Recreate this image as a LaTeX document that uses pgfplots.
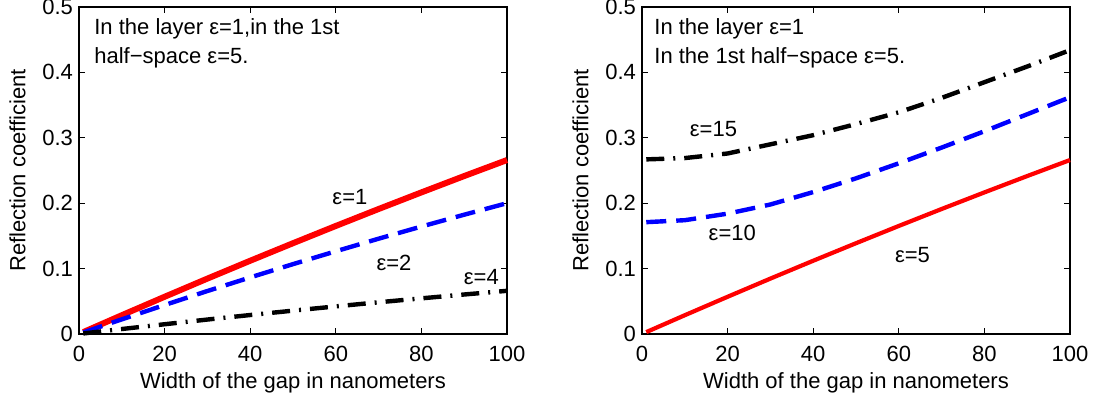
\documentclass[border=0pt]{standalone}
\usepackage{fontspec}
\setmainfont{Liberation Sans}
\usepackage{pgfplots}
\pgfplotsset{compat=1.18}

\pgfplotsset{
  panel/.style={
    width=214pt, height=163.5pt, scale only axis,
    xmin=0, xmax=100, ymin=0, ymax=0.5,
    xtick={0,20,40,60,80,100},
    ytick={0,0.1,0.2,0.3,0.4,0.5},
    tick align=inside, major tick length=3pt,
    tick style={black, line width=0.5pt},
    axis line style={black, line width=0.6pt},
    font=\fontsize{11}{13}\selectfont,
    /pgf/number format/assume math mode=true,
    yticklabel style={/pgf/number format/fixed, /pgf/number format/precision=1, xshift=0.5pt},
    xticklabel style={yshift=-2.5pt},
    xlabel={Width of the gap in nanometers},
    ylabel={Reflection coefficient},
    xlabel style={yshift=1.5pt},
    ylabel style={yshift=1.5pt},
    clip=false,
  },
  redline/.style={red, line width=2.1pt, no markers},
  blueline/.style={blue, line width=2.2pt, no markers, dash pattern=on 10pt off 5pt},
  blackline/.style={black, line width=2.2pt, no markers, dash pattern=on 9pt off 4.5pt on 1pt off 4.5pt},
}

\begin{document}
\begin{tikzpicture}
\path[use as bounding box] (-39.5pt,-33pt) rectangle (507.5pt,167pt);

\begin{axis}[panel, at={(0,0)}]
\addplot[redline, line width=3pt] coordinates {
(1,0.0029) (10,0.0287) (20,0.0569) (30,0.0847) (40,0.1120) (50,0.1388)
(60,0.1652) (70,0.1911) (80,0.2165) (90,0.2415) (100,0.2660)};
\addplot[blueline] coordinates {
(1,0.0023) (10,0.0224) (20,0.0443) (30,0.0657) (40,0.0865) (50,0.1068)
(60,0.1265) (70,0.1457) (80,0.1643) (90,0.1824) (100,0.2000)};
\addplot[blackline] coordinates {
(1,0.0008) (10,0.0076) (20,0.0149) (30,0.0221) (40,0.0290) (50,0.0357)
(60,0.0422) (70,0.0485) (80,0.0545) (90,0.0604) (100,0.0660)};
\node at (axis cs:63.3,0.210) {ε=1};
\node at (axis cs:73.6,0.108) {ε=2};
\node at (axis cs:94,0.087) {ε=4};
\node[anchor=base west, inner sep=0pt] at (axis cs:3.5,0.458) {In the layer ε=1,in the 1st};
\node[anchor=base west, inner sep=0pt] at (axis cs:3.5,0.413) {half−space ε=5.};
\end{axis}

\begin{axis}[panel, at={(281.5pt,0)}]
\addplot[redline] coordinates {
(1,0.0029) (10,0.0287) (20,0.0569) (30,0.0847) (40,0.1120) (50,0.1388)
(60,0.1652) (70,0.1911) (80,0.2165) (90,0.2415) (100,0.2660)};
\addplot[blueline] coordinates {
(1,0.171) (10,0.174) (20,0.184) (30,0.198) (40,0.217) (50,0.238)
(60,0.261) (70,0.285) (80,0.310) (90,0.336) (100,0.362)};
\addplot[blackline] coordinates {
(1,0.267) (10,0.269) (20,0.276) (30,0.290) (40,0.304) (50,0.321)
(60,0.339) (70,0.361) (80,0.385) (90,0.409) (100,0.434)};
\node at (axis cs:16.7,0.313) {ε=15};
\node at (axis cs:21.1,0.154) {ε=10};
\node at (axis cs:63.2,0.121) {ε=5};
\node[anchor=base west, inner sep=0pt] at (axis cs:2.8,0.458) {In the layer ε=1};
\node[anchor=base west, inner sep=0pt] at (axis cs:2.8,0.413) {In the 1st half−space ε=5.};
\end{axis}
\end{tikzpicture}
\end{document}
